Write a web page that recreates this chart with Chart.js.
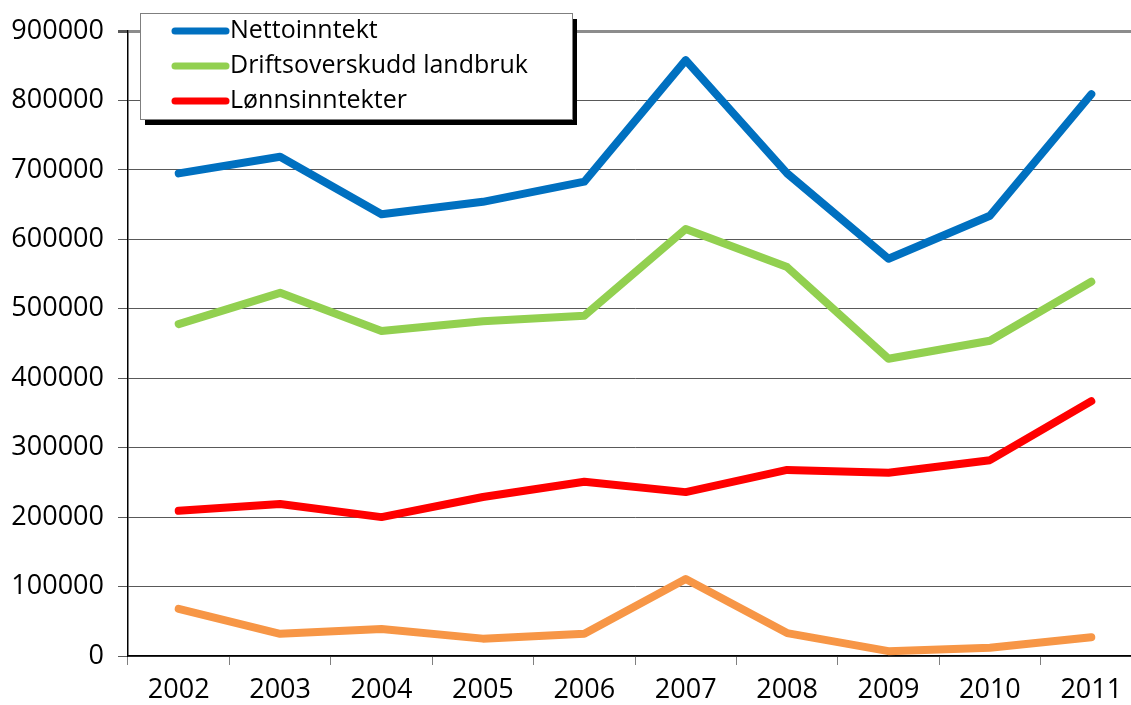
<!DOCTYPE html>
<html>
<head>
<meta charset="utf-8">
<script src="https://cdn.jsdelivr.net/npm/chart.js@4"></script>
<style>
  html, body { margin: 0; padding: 0; background: #fff; overflow: hidden; }
</style>
</head>
<body>
<canvas id="chart" width="1150" height="705"></canvas>
<script>
// ─── DATA ────────────────────────────────────────────────────────
const years = ['2002', '2003', '2004', '2005', '2006', '2007', '2008', '2009', '2010', '2011'];
const nettoinntekt = [695000, 719000, 636000, 654000, 683000, 858000, 695000, 572000, 634000, 809000];
const driftsoverskudd = [478000, 523000, 468000, 482000, 490000, 615000, 560000, 428000, 454000, 539000];
const lonnsinntekter = [209000, 219000, 200000, 229000, 251000, 236000, 268000, 264000, 282000, 367000];
const annet = [68000, 32000, 39000, 25000, 32000, 111000, 33000, 7000, 12000, 27000];
const yTicks = [0, 100000, 200000, 300000, 400000, 500000, 600000, 700000, 800000, 900000];

const FONT = "'Open Sans', sans-serif";

// legend drawn inside the plot, with a drop shadow (orange series has no entry)
const boxLegend = {
  id: 'boxLegend',
  afterDraw(chart) {
    const ctx = chart.ctx;
    const x = 140, y = 13, w = 432, h = 106;
    ctx.save();
    ctx.fillStyle = '#000';
    ctx.fillRect(x + 5, y + 6, w, h);
    ctx.fillStyle = '#fff';
    ctx.fillRect(x, y, w, h);
    ctx.strokeStyle = '#7f7f7f';
    ctx.lineWidth = 1;
    ctx.strokeRect(x + 0.5, y + 0.5, w, h);
    ctx.font = `25px ${FONT}`;
    ctx.textBaseline = 'middle';
    let row = 0;
    chart.data.datasets.forEach(ds => {
      if (!ds.label) return;
      const cy = 31 + row * 35;
      ctx.strokeStyle = ds.borderColor;
      ctx.lineWidth = 7;
      ctx.lineCap = 'round';
      ctx.beginPath();
      ctx.moveTo(175, cy);
      ctx.lineTo(226, cy);
      ctx.stroke();
      ctx.fillStyle = '#000';
      ctx.fillText(ds.label, 230, cy);
      row++;
    });
    ctx.restore();
  }
};

const lineStyle = { borderWidth: 8, pointRadius: 0, pointHoverRadius: 0, borderCapStyle: 'round', borderJoinStyle: 'round', tension: 0 };

new Chart(document.getElementById('chart'), {
  type: 'line',
  data: {
    labels: years,
    datasets: [
      { label: 'Nettoinntekt', data: nettoinntekt, borderColor: '#0070C0', ...lineStyle },
      { label: 'Driftsoverskudd landbruk', data: driftsoverskudd, borderColor: '#92D050', ...lineStyle },
      { label: 'Lønnsinntekter', data: lonnsinntekter, borderColor: '#FF0000', ...lineStyle },
      { label: '', data: annet, borderColor: '#F79646', ...lineStyle },
    ]
  },
  options: {
    responsive: false,
    animation: false,
    layout: { padding: { top: 31, right: 8, left: 0, bottom: 0 } },
    plugins: { legend: { display: false }, tooltip: { enabled: false } },
    scales: {
      x: {
        offset: true,
        afterFit: s => { s.height = 49; },
        grid: { offset: true, drawOnChartArea: false, drawTicks: true, tickLength: 9, tickColor: '#808080' },
        border: { color: '#000', width: 1.5 },
        ticks: { color: '#000', padding: 9, font: { family: FONT, size: 27 }, maxRotation: 0 },
      },
      y: {
        min: 0,
        max: 900000,
        afterFit: s => { s.width = 128; },
        afterBuildTicks: s => { s.ticks = yTicks.map(v => ({ value: v })); },
        grid: {
          color: c => c.index === 9 ? '#8c8c8c' : '#595959',
          lineWidth: c => c.index === 9 ? 3 : 1,
          tickLength: 10,
          tickColor: '#595959',
        },
        border: { color: '#000', width: 1.5 },
        ticks: { color: '#000', padding: 14, font: { family: FONT, size: 27 }, callback: v => String(v) },
      }
    }
  },
  plugins: [boxLegend]
});
</script>
</body>
</html>
